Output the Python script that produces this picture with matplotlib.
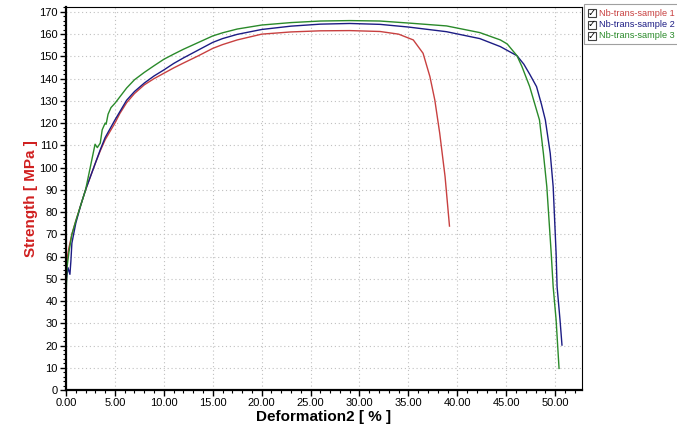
import matplotlib
matplotlib.use('Agg')
import matplotlib.pyplot as plt
from matplotlib.ticker import MultipleLocator, FormatStrFormatter
from matplotlib.patches import Rectangle

plt.rcParams['font.family'] = ['Liberation Sans', 'DejaVu Sans']

# sample 1 (red)
x1 = [0, 0.05, 0.15, 0.3, 0.6, 1.0, 1.5, 2.0, 2.5, 3.0, 3.5, 4.0, 5.0, 5.5, 6.2, 7.0, 8.0,
      9.0, 10.0, 11.0, 12.0, 13.5, 15.0, 16.0, 17.5, 20.0, 23.0, 26.0, 29.0, 32.1, 34.0,
      35.5, 36.5, 37.2, 37.7, 38.2, 38.75, 39.2]
y1 = [48, 55, 60, 64, 70, 76, 83, 90, 96, 102, 107.5, 112.5, 120, 124.3, 129.2, 133.3, 137.2,
      140, 142.4, 144.8, 147, 150.2, 153.6, 155.3, 157.4, 160, 161, 161.5, 161.6, 161.2, 160,
      157.4, 151.4, 140.9, 130.4, 115.5, 95.9, 73.7]

# sample 2 (blue)
x2 = [0, 0.05, 0.2, 0.4, 0.5, 0.6, 1.0, 1.5, 2.0, 2.5, 3.0, 3.5, 4.0, 5.0, 6.2, 7.0, 8.0,
      9.0, 10.0, 11.0, 12.0, 13.5, 15.0, 16.0, 17.5, 20.0, 23.0, 26.0, 29.0, 32.1, 35.0,
      38.9, 42.3, 44.4, 46.1, 46.8, 47.4, 48.1, 48.6, 49.0, 49.5, 49.8, 50.1, 50.2, 50.5, 50.7]
y2 = [46, 50, 55, 52, 58, 66, 75, 83, 90, 96, 102, 108, 113.5, 121.4, 130.3, 134.2, 138,
      141.2, 143.9, 146.8, 149.3, 152.8, 156.3, 158, 159.9, 162.1, 163.6, 164.5, 164.8, 164.4, 163.2,
      161.1, 158, 154.4, 150.3, 146.5, 142, 136.4, 128.5, 121.4, 106.4, 91.4, 61.4, 46.4, 31.5, 20.2]

# sample 3 (green)
x3 = [0, 0.03, 0.1, 0.3, 0.6, 1.0, 1.5, 2.0, 2.45, 2.97, 3.2, 3.5, 3.7, 4.0, 4.1, 4.3, 4.6,
      5.0, 6.2, 7.0, 8.0, 9.0, 10.0, 11.0, 12.0, 13.5, 15.0, 16.0, 17.5, 20.0, 23.0, 26.0,
      29.0, 32.1, 35.0, 38.9, 42.3, 44.4, 45.1, 46.1, 46.6, 47.4, 48.4, 48.8, 49.15, 49.6,
      49.8, 50.1, 50.4]
y3 = [34.5, 45, 55, 62, 70, 76, 83, 90, 99.5, 110.5, 109, 111, 117, 120, 119.5, 124, 127,
      128.9, 135.8, 139.5, 142.8, 145.8, 148.7, 151, 153.2, 156.2, 159.2, 160.6, 162.3, 164.1, 165.2, 165.9,
      166.1, 165.9, 165, 163.7, 160.7, 157.4, 155.6, 150.3, 145.5, 136.4, 121.4, 106.4, 91.4, 61.4,
      46.4, 31.5, 9.7]

labels = ['Nb-trans-sample 1', 'Nb-trans-sample 2', 'Nb-trans-sample 3']
colors = ['#c84040', '#1c1c84', '#2a8a2a']

fig = plt.figure(figsize=(6.77, 4.28), dpi=100)
ax = fig.add_axes([0.0975, 0.0888, 0.7615, 0.8948])

for xs, ys, c in zip([x1, x2, x3], [y1, y2, y3], colors):
    ax.plot(xs, ys, color=c, lw=1.0)

ax.set_xlim(0, 52.7)
ax.set_ylim(0, 172.2)
ax.xaxis.set_major_locator(MultipleLocator(5))
ax.xaxis.set_minor_locator(MultipleLocator(1))
ax.yaxis.set_major_locator(MultipleLocator(10))
ax.yaxis.set_minor_locator(MultipleLocator(2))
ax.xaxis.set_major_formatter(FormatStrFormatter('%.2f'))
ax.tick_params(which='major', length=4, width=1, labelsize=8, colors='black', pad=2)
ax.tick_params(which='minor', length=2, width=0.8)
ax.grid(which='major', linestyle=(0, (1, 2.5)), color='#c0c0c0', linewidth=0.8)

for s in ['left', 'bottom']:
    ax.spines[s].set_linewidth(1.6)
for s in ['top', 'right']:
    ax.spines[s].set_linewidth(0.8)

ax.set_xlabel('Deformation2 [ % ]', fontsize=11, fontweight='bold', labelpad=1)
ax.set_ylabel('Strength [ MPa ]', fontsize=11, fontweight='bold', color='#d02020', labelpad=1)

# checkbox legend at the right
fig.patches.append(Rectangle((584 / 677, 1 - 44 / 428), 0.2, 40 / 428, transform=fig.transFigure,
                             fill=False, edgecolor='#a0a0a0', lw=0.8))
rows = [13, 24.5, 36]
for lab, c, r in zip(labels, colors, rows):
    yy = 1 - r / 428
    fig.patches.append(Rectangle((588 / 677, yy - 4 / 428), 8 / 677, 8 / 428, transform=fig.transFigure,
                                 fill=True, facecolor='white', edgecolor='#404040', lw=0.8))
    fig.text(592 / 677, yy, '✓', fontsize=7, fontweight='bold', ha='center', va='center',
             family=['DejaVu Sans'])
    fig.text(599 / 677, yy, lab, fontsize=6.6, color=c, ha='left', va='center')

fig.savefig('out.png', dpi=100)
